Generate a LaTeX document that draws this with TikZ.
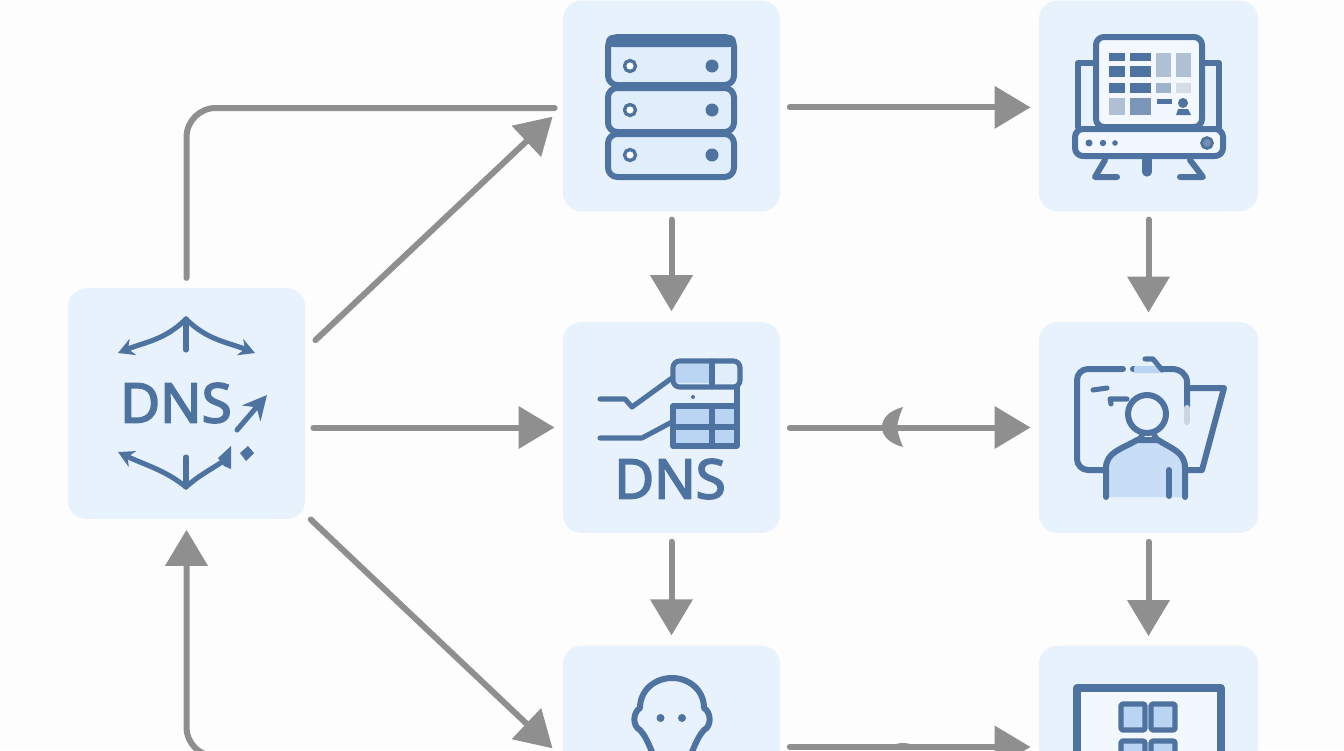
\documentclass[tikz,border=0pt]{standalone}
\usepackage{fontspec}
\setmainfont{Noto Sans}
\newfontfamily\dnsfont[FakeBold=3]{Noto Sans}
\usepackage{xcolor}
\usetikzlibrary{arrows.meta, positioning, calc}
\definecolor{panelblue}{HTML}{E7F2FC}
\definecolor{iconblue}{HTML}{4F73A0}
\definecolor{cellblue}{HTML}{B9D5F3}
\definecolor{palecell}{HTML}{E0EDFB}
\definecolor{linegray}{HTML}{8F8F8F}
\definecolor{pagewhite}{HTML}{FDFDFE}
\begin{document}
\begin{tikzpicture}[
    x=0.75pt, y=-0.75pt,
    >={Triangle[length=27pt, width=31pt]},
    panel/.style={fill=panelblue, rounded corners=14pt, inner sep=0pt, minimum width=163pt, minimum height=158pt},
    widepanel/.style={panel, minimum width=164.5pt},
    hubpanel/.style={panel, minimum width=178pt, minimum height=173pt},
    line/.style={line width=4.5pt, linegray, line cap=round},
    arrow/.style={line, ->},
    icon/.style={draw=iconblue, line width=4.5pt, line cap=round, line join=round},
    thin icon/.style={icon, line width=3.8pt},
    cell/.style={fill=cellblue, rounded corners=1pt},
    smalltip/.style={-{Stealth[length=12pt, width=13pt]}},
    dnslbl/.style={text=iconblue, font=\dnsfont\fontsize{41}{41}\selectfont, inner sep=0pt}
]
\useasboundingbox (0,0) rectangle (1344,750);
\clip (0,0) rectangle (1344,750);
\fill[pagewhite] (0,0) rectangle (1344,750);

% Nodes
\node[hubpanel] (hub) at (186.5, 403.5) {};
\node[panel] (server) at (671.5, 106) {};
\node[widepanel] (screen) at (1148.5, 106) {};
\node[panel] (table) at (671.5, 427.5) {};
\node[widepanel] (person) at (1148.5, 427.5) {};
\node[panel] (face) at (671.5, 751) {};
\node[widepanel] (grid) at (1148.5, 751) {};

\node[dnslbl] (hubdns) at (176, 403) {DNS};
\node[dnslbl] (tabledns) at (670, 479) {DNS};

% Hub <-> Server
\draw[line, rounded corners=22pt] ([yshift=7.5pt]hub.north) |- ([xshift=-6pt, yshift=-1.5pt]server.west);
\draw[arrow] ([xshift=7.5pt, yshift=47.5pt]hub.east) -- ([xshift=-7.5pt, yshift=-8pt]server.west);

% Hub <-> Table
\draw[arrow] ([xshift=6pt]hub.east |- table.west) -- ([xshift=-6pt]table.west);

% Hub <-> Face
\draw[arrow] ([xshift=4pt, yshift=-87pt]hub.east) -- ([xshift=-7.5pt, yshift=2pt]face.west);
\draw[arrow, rounded corners=22pt] ([yshift=-4pt]face.west) -| ([yshift=-8pt]hub.south);

% Left column of arrows
\draw[arrow] ([yshift=-6pt]server.south) -- ([yshift=8pt]table.north);
\draw[arrow] ([yshift=-6.5pt]table.south) -- ([yshift=7.5pt]face.north);

% Right column of arrows
\draw[arrow] ([yshift=-6pt]screen.south) -- ([yshift=7pt]person.north);
\draw[arrow] ([yshift=-6.5pt]person.south) -- ([yshift=7pt]grid.north);

% Across
\draw[arrow] ([xshift=7pt, yshift=-1pt]server.east) -- ([xshift=-6pt, yshift=-1pt]screen.west);
\draw[arrow] ([xshift=7pt]table.east) -- ([xshift=-6pt]person.west);
\fill[linegray] (903,407) .. controls (888,411) and (882,419) .. (882,427) .. controls (882,435) and (888,443) .. (903,447) .. controls (900,440) and (898,434) .. (897,427) .. controls (898,420) and (900,414) .. (903,407) -- cycle;
\draw[arrow] ([xshift=7pt, yshift=3pt]face.east) -- ([xshift=-6pt, yshift=3pt]grid.west);
\fill[linegray] (893,746) .. controls (896,742) and (910,742) .. (913,746) -- cycle;

% Hub icon
\draw[thin icon] (186,319) -- (186,350);
\draw[thin icon, smalltip] (186,319) .. controls (165,340) and (145,342) .. (118,353);
\draw[thin icon, smalltip] (186,319) .. controls (207,340) and (227,342) .. (255,353);
\draw[thin icon] (186,457) -- (186,487);
\draw[thin icon, smalltip] (186,487) .. controls (165,470) and (145,465) .. (118,452);
\draw[thin icon] (186,487) .. controls (198,476) and (210,470) .. (222,462);
\fill[iconblue] (231,446) -- (231,469) -- (224,466) -- (218,458) -- cycle;
\fill[iconblue] (248,446) -- (254,453) -- (246,461) -- (240,453) -- cycle;
\draw[thin icon, -{Stealth[length=18pt, width=18pt]}] (237,430) -- (267,395);

% Server icon
\foreach \ya/\yb in {37/85, 88/132, 134/177} {
  \draw[icon, fill=palecell, rounded corners=7pt] (608,\ya) rectangle (734,\yb);
}
\fill[iconblue, rounded corners=5pt] (606,35) rectangle (736,47);
\foreach \yc in {66, 110, 155} {
  \draw[iconblue, line width=2.5pt, fill=white] (630,\yc) circle (5.5);
  \fill[iconblue] (712,\yc) circle (6.5);
}

% Screen icon
\draw[icon] (1095,63) -- (1078,63) -- (1078,127);
\draw[icon] (1203,63) -- (1219,63) -- (1219,127);
\draw[icon, fill=panelblue!50!white, rounded corners=6pt] (1096,37) rectangle (1202,127);
\draw[icon, fill=panelblue!50!white, rounded corners=6pt] (1075,129) rectangle (1223,156);
\foreach \xa/\xb in {1109/1125, 1130/1151} {
  \fill[iconblue] (\xa,53) rectangle (\xb,61);
  \fill[iconblue] (\xa,66) rectangle (\xb,77);
  \fill[iconblue] (\xa,83) rectangle (\xb,93);
}
\fill[iconblue!45] (1156,53) rectangle (1171,77);
\fill[iconblue!45] (1176,53) rectangle (1191,77);
\fill[iconblue!55] (1156,83) rectangle (1171,93);
\fill[iconblue!25] (1176,83) rectangle (1191,93);
\fill[iconblue!45] (1109,98) rectangle (1125,115);
\fill[iconblue!75] (1130,98) rectangle (1151,115);
\fill[iconblue] (1157,99) rectangle (1172,104);
\fill[iconblue] (1183,103) circle (5);
\fill[iconblue] (1176,115) -- (1178,109) -- (1188,109) -- (1191,115) -- cycle;
\fill[iconblue] (1089,143) circle (3.5) (1103,143) circle (3.2) (1115,143) circle (2.8);
\draw[iconblue, line width=2pt, fill=iconblue!80] (1207,143) circle (5.5);
\draw[icon, line width=7pt] (1147,160) -- (1147,172);
\draw[icon] (1105,160) -- (1095,177) -- (1117,177);
\draw[icon] (1190,160) -- (1203,177) -- (1180,177);

% Table icon
\draw[thin icon] (600,399) -- (625,399) -- (632,407) -- (672,378);
\draw[thin icon] (600,438) -- (642,438) -- (672,422);
\fill[cell] (676,364) rectangle (710,383);
\fill[palecell, rounded corners=1pt] (714,364) rectangle (737,383);
\draw[thin icon, rounded corners=5pt] (673,361) rectangle (740,387);
\draw[thin icon] (712,361) -- (712,387);
\draw[thin icon] (737,387) -- (737,406);
\fill[cell] (676,408) rectangle (736,427);
\fill[cell] (676,430) rectangle (736,444);
\draw[thin icon] (673,406) rectangle (737,446);
\draw[thin icon] (673,427) -- (737,427) (712,406) -- (712,446);
\fill[iconblue] (693,397) circle (2);

% Person icon
\draw[icon] (1123,369) -- (1088,369) to[out=180, in=90] (1077,380) -- (1077,459) to[out=270, in=180] (1088,470) -- (1105,470);
\draw[icon] (1133,369) -- (1172,369) to[out=0, in=90] (1187,382) -- (1187,407);
\draw[icon, draw=iconblue!30] (1187,408) -- (1187,422);
\fill[cell] (1134,366) rectangle (1160,373);
\draw[thin icon] (1145,359) -- (1153,359) -- (1162,370);
\draw[icon] (1190,388) -- (1224,388) -- (1202,470) -- (1187,470);
\draw[thin icon] (1093,390) -- (1107,388);
\draw[thin icon] (1111,404) -- (1110,399) -- (1127,399);
\draw[icon, fill=cellblue!70!panelblue] (1106,497) -- (1106,468) .. controls (1106,452) and (1122,449) .. (1137,440) -- (1158,440) .. controls (1172,449) and (1185,452) .. (1185,468) -- (1185,497);
\draw[thin icon] (1138,440) -- (1145,432) -- (1152,432) -- (1158,440);
\draw[icon, fill=panelblue] (1147,414) circle (19);
\draw[icon] (1169,470) -- (1169,496);

% Face icon
\draw[icon] (652,752) .. controls (648,742) and (644,734) .. (640,730) .. controls (632,726) and (633,712) .. (640,708) .. controls (640,690) and (655,678) .. (672,678) .. controls (689,678) and (704,690) .. (704,708) .. controls (711,712) and (712,726) .. (704,730) .. controls (700,734) and (696,742) .. (692,752);
\fill[iconblue] (660.5,718) circle (4) (682,718) circle (4);

% Grid icon
\draw[icon, line width=5.5pt, fill=panelblue!50!white] (1077,688) rectangle (1221,760);
\foreach \xa/\xb in {1121/1145, 1151/1175} {
  \draw[thin icon, fill=cellblue, rounded corners=1pt] (\xa,704) rectangle (\xb,730);
  \draw[thin icon, fill=cellblue, rounded corners=1pt] (\xa,741) rectangle (\xb,765);
}

\end{tikzpicture}
\end{document}
